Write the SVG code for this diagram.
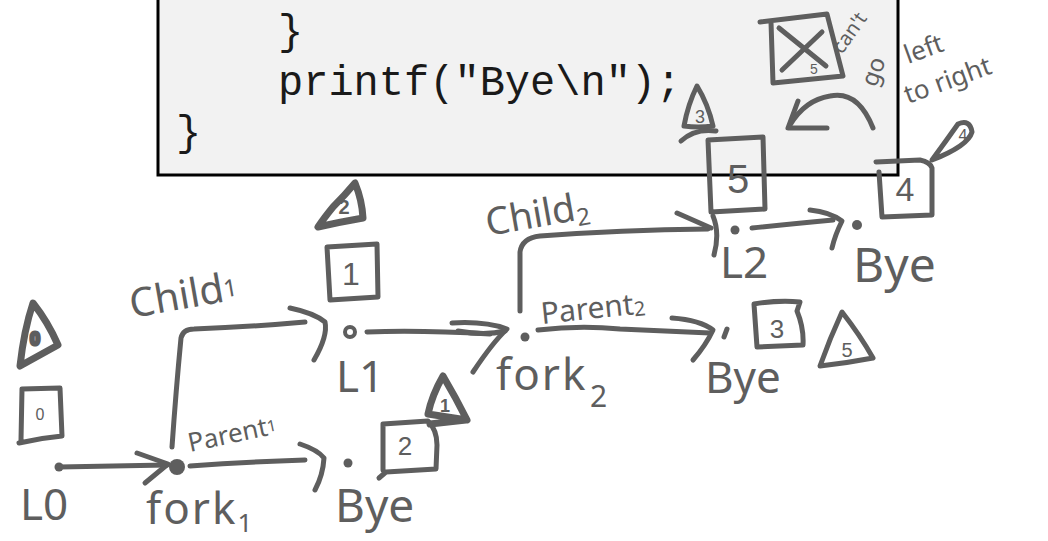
<svg xmlns="http://www.w3.org/2000/svg" width="1048" height="541" viewBox="0 0 1048 541">
  <style>
    .ink { fill: none; stroke: #5e5e5e; stroke-width: 5; stroke-linecap: round; stroke-linejoin: round; }
    .heavy { fill: none; stroke: #5e5e5e; stroke-width: 7; stroke-linecap: round; stroke-linejoin: round; }
    .dot { fill: #5e5e5e; }
    .hand { font-family: "Noto Sans", "DejaVu Sans", sans-serif; fill: #5e5e5e; }
    .num { font-family: "Liberation Sans", Arial, sans-serif; fill: #5e5e5e; text-anchor: middle; }
    .code { font-family: "Liberation Mono", "Courier New", monospace; font-size: 42px; fill: #1a1a1a; }
  </style>

  <rect width="1048" height="541" fill="#ffffff"/>

  <!-- code listing -->
  <g id="code">
    <rect x="158" y="-10" width="740" height="185" fill="#f2f2f2" stroke="#000" stroke-width="3"/>
    <text class="code" x="278" y="44">}</text>
    <text class="code" x="278" y="95">printf("Bye\n");</text>
    <text class="code" x="176" y="145">}</text>
  </g>

  <!-- connectors -->
  <g id="connectors">
    <!-- L0 -> fork1 -->
    <path class="ink" d="M59,467 Q110,466 167,465"/>
    <path class="ink" d="M137,453 L168,464 L145,483"/>
    <!-- fork1 -> L1 (child1) -->
    <path class="ink" d="M172,447 Q176,390 181,338 Q183,329 194,329 Q250,327 305,322"/>
    <path class="ink" d="M290,308 Q314,313 325,322 Q328,336 314,360"/>
    <!-- fork1 -> Bye (parent1) -->
    <path class="ink" d="M190,466 Q245,462 305,460"/>
    <path class="ink" d="M300,444 Q318,450 324,458 Q323,475 315,490"/>
    <!-- L1 -> fork2 -->
    <path class="ink" d="M367,332 Q420,330 490,334"/>
    <path class="ink" d="M452,323 Q485,321 507,329 Q493,342 473,372"/>
    <path class="ink" d="M458,331 Q485,336 505,331"/>
    <!-- fork2 -> L2 (child2) -->
    <path class="ink" d="M520,311 L520,252 Q522,238 540,236 Q620,230 708,229"/>
    <path class="ink" d="M677,213 L711,228"/>
    <path class="ink" d="M713,216 Q720,233 714,255"/>
    <!-- fork2 -> Bye (parent2) -->
    <path class="ink" d="M538,330 Q580,325 620,329 Q665,331 710,333"/>
    <path class="ink" d="M672,318 Q700,320 713,330 Q706,345 693,360"/>
    <!-- L2 -> Bye -->
    <path class="ink" d="M752,228 Q790,224 833,220"/>
    <path class="ink" d="M810,210 Q830,212 842,221 Q835,235 832,248"/>
  </g>

  <!-- L0 -->
  <g id="L0">
    <path class="heavy" d="M33,303 Q48,322 58,345 Q40,355 20,366 Q24,330 33,303 Z"/>
    <text class="num" x="35" y="345" font-size="18" font-weight="bold" stroke="#5e5e5e" stroke-width="3">0</text>
    <path class="ink" d="M22,389 L60,388 L62,436 Q40,438 19,443 M22,389 L21,440"/>
    <text class="num" x="40" y="420" font-size="16">0</text>
    <circle class="dot" cx="59" cy="467" r="4.5"/>
    <text class="hand" x="20" y="520" font-size="44">L0</text>
  </g>

  <!-- fork 1 -->
  <g id="fork1">
    <circle class="dot" cx="177" cy="467" r="8"/>
    <text class="hand" x="146" y="524" font-size="44" letter-spacing="2">fork<tspan font-size="26" dy="8">1</tspan></text>
    <text class="hand" x="132" y="318" font-size="40" transform="rotate(-10 132 318)">Child<tspan font-size="24" dy="-4">1</tspan></text>
    <text class="hand" x="190" y="452" font-size="26" transform="rotate(-12 190 452)">Parent<tspan font-size="16" dy="-3">1</tspan></text>
  </g>

  <!-- L1 -->
  <g id="L1">
    <path class="heavy" d="M355,183 Q345,195 333,207 Q324,218 318,227 Q340,222 363,218 Q362,200 355,183 Z"/>
    <text class="num" x="344" y="214" font-size="20" font-weight="bold">2</text>
    <path class="ink" d="M327,247 L377,244 L378,297 L330,300 Z"/>
    <text class="num" x="351" y="285" font-size="32">1</text>
    <circle cx="350" cy="332" r="5" fill="none" stroke="#5e5e5e" stroke-width="4"/>
    <text class="hand" x="336" y="392" font-size="44">L1</text>
  </g>

  <!-- Bye after fork 1 -->
  <g id="bye1">
    <circle class="dot" cx="348" cy="463" r="4.5"/>
    <path class="ink" d="M383,424 L428,421 Q437,430 437,445 L436,469 L386,472 L379,478 M383,424 L383,470"/>
    <text class="num" x="405" y="455" font-size="26">2</text>
    <path class="heavy" d="M443,376 Q456,398 467,420 Q447,417 428,414 Q432,395 443,376 Z M430,424 L466,420"/>
    <text class="num" x="445" y="412" font-size="18" font-weight="bold">1</text>
    <text class="hand" x="335" y="522" font-size="46">Bye</text>
  </g>

  <!-- fork 2 -->
  <g id="fork2">
    <circle class="dot" cx="525" cy="337" r="4.5"/>
    <text class="hand" x="496" y="390" font-size="44" letter-spacing="2">fork</text>
    <text class="hand" x="590" y="407" font-size="30">2</text>
    <text class="hand" x="488" y="236" font-size="38" transform="rotate(-10 488 236)">Child<tspan font-size="24" dy="6">2</tspan></text>
    <text class="hand" x="542" y="324" font-size="30" transform="rotate(-6 542 324)">Parent<tspan font-size="20" dy="2">2</tspan></text>
  </g>

  <!-- L2 -->
  <g id="L2">
    <path class="ink" d="M697,86 Q708,104 713,126 Q698,128 684,126 Q688,104 697,86 Z"/>
    <path class="ink" d="M681,141 Q695,128 716,131"/>
    <text class="num" x="700" y="123" font-size="18">3</text>
    <path class="ink" d="M708,140 L763,137 L765,209 L711,212 Z"/>
    <text class="num" x="738" y="193" font-size="40">5</text>
    <circle class="dot" cx="735" cy="230" r="4.5"/>
    <text class="hand" x="720" y="278" font-size="44">L2</text>
  </g>

  <!-- Bye after parent 2 -->
  <g id="bye2">
    <path class="ink" d="M727,329 L724,337"/>
    <path class="ink" d="M754,304 Q778,300 800,302 L797,311 Q804,328 803,345 L757,347 Z"/>
    <text class="num" x="777" y="338" font-size="26">3</text>
    <path class="ink" d="M842,312 Q860,335 873,358 Q847,363 820,366 Q830,338 842,312 Z"/>
    <text class="num" x="847" y="357" font-size="20">5</text>
    <text class="hand" x="705" y="393" font-size="44">Bye</text>
  </g>

  <!-- Bye after child 2 -->
  <g id="bye3">
    <circle class="dot" cx="857" cy="225" r="5"/>
    <path class="ink" d="M876,162 L920,160 Q930,162 932,168 L932,215 L882,217 L879,172"/>
    <text class="num" x="905" y="201" font-size="34">4</text>
    <path class="ink" d="M932,160 Q946,141 958,124 Q970,119 972,132 Q968,146 932,160 Z"/>
    <text class="num" x="963" y="141" font-size="16">4</text>
    <text class="hand" x="853" y="282" font-size="48">Bye</text>
  </g>

  <!-- crossed-out ordering note -->
  <g id="note">
    <path class="ink" d="M760,22 L827,14 L843,76 L773,83 M771,22 L773,83"/>
    <path class="ink" d="M779,28 L826,66 M822,32 L782,70"/>
    <text class="num" x="814" y="74" font-size="14">5</text>
    <path class="ink" d="M873,128 Q858,90 830,96 Q805,100 790,125"/>
    <path class="ink" d="M798,101 L788,128 L827,128"/>
    <text class="hand" x="842" y="55" font-size="20" transform="rotate(-55 842 55)">can't</text>
    <text class="hand" x="876" y="88" font-size="24" transform="rotate(-70 876 88)">go</text>
    <text class="hand" x="908" y="64" font-size="26" transform="rotate(-20 908 64)">left</text>
    <text class="hand" x="908" y="104" font-size="26" transform="rotate(-20 908 104)">to right</text>
  </g>
</svg>
